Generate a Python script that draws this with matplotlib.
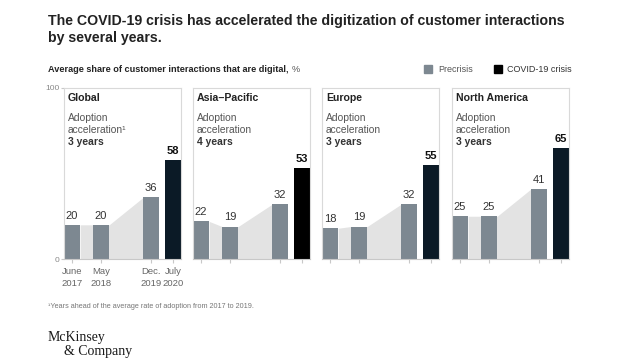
import matplotlib.pyplot as plt
from matplotlib.patches import Rectangle
from matplotlib.text import Annotation

plt.rcParams['font.family'] = ['Liberation Sans', 'DejaVu Sans']

regions = ["Global", "Asia\u2013Pacific", "Europe", "North America"]
accel_years = ["3 years", "4 years", "3 years", "3 years"]
precrisis = [[20, 20, 36], [22, 19, 32], [18, 19, 32], [25, 25, 41]]
covid = [58, 53, 55, 65]
date_labels = ["June\n2017", "May\n2018", "Dec.\n2019", "July\n2020"]

GRAY = "#7d8891"
FILL = "#e3e3e3"
COVID_COLORS = ["#0b1a26", "#000000", "#0b1a26", "#0b1a26"]
EDGE = "#d9d9d9"

W, H = 640, 360
fig = plt.figure(figsize=(6.4, 3.6), dpi=100)

fig.text(48 / W, 1 - 14 / H,
         "The COVID-19 crisis has accelerated the digitization of customer interactions\nby several years.",
         fontsize=10.2, fontweight="bold", color="#222222", va="top", linespacing=1.25)
sub = fig.text(48 / W, 1 - 69 / H, "Average share of customer interactions that are digital,",
               fontsize=6.6, fontweight="bold", color="#222222", va="center")
fig.add_artist(Annotation("%", xy=(1, 0.5), xycoords=sub, xytext=(2, 0),
                          textcoords="offset points", fontsize=6.6, color="#555555",
                          va="center", ha="left"))

# legend
fig.add_artist(Rectangle((424 / W, 1 - 73 / H), 8 / W, 8 / H, color=GRAY, transform=fig.transFigure))
fig.text(438 / W, 1 - 69 / H, "Precrisis", fontsize=6.5, color="#555555", va="center")
fig.add_artist(Rectangle((494 / W, 1 - 73 / H), 8 / W, 8 / H, color="black", transform=fig.transFigure))
fig.text(507 / W, 1 - 69 / H, "COVID-19 crisis", fontsize=6.5, color="#333333", va="center")

lefts = [64, 193, 322, 452]
pw = 117
top, bottom = 88, 259
xpos = [0.5, 2.3, 5.4, 6.75]
bw = 1.0

for i, region in enumerate(regions):
    ax = fig.add_axes([lefts[i] / W, 1 - bottom / H, pw / W, (bottom - top) / H])
    vals = precrisis[i]
    hw = bw / 2
    fx = [xpos[0] + hw, xpos[1] - hw, xpos[1] + hw, xpos[2] - hw]
    fy = [vals[0], vals[1], vals[1], vals[2]]
    ax.fill_between(fx, fy, 0, color=FILL, lw=0, zorder=1)
    ax.bar(xpos[:3], vals, width=bw, color=GRAY, zorder=2)
    ax.bar(xpos[3], covid[i], width=bw, color=COVID_COLORS[i], zorder=2)
    for x, v in zip(xpos[:3], vals):
        ax.text(x, v + 2.5, str(v), ha="center", va="bottom", fontsize=8, color="#333333")
    ax.text(xpos[3], covid[i] + 2.5, str(covid[i]), ha="center", va="bottom",
            fontsize=8, fontweight="bold", color="#111111")
    ax.set_xlim(0, 7.25)
    ax.set_ylim(0, 100)
    for s in ["top", "left", "right"]:
        ax.spines[s].set_color(EDGE)
        ax.spines[s].set_linewidth(0.8)
    ax.spines["bottom"].set_color("#c8c8c8")
    ax.spines["bottom"].set_linewidth(0.8)
    ax.set_xticks(xpos)
    ax.tick_params(axis="x", length=3, color="#c8c8c8", labelsize=6.8, labelcolor="#666666", pad=3)
    if i == 0:
        ax.set_xticklabels(date_labels, linespacing=1.35)
        ax.set_yticks([0, 100])
        ax.tick_params(axis="y", length=2, color="#c8c8c8", labelsize=6, labelcolor="#888888", pad=1)
    else:
        ax.set_xticklabels([])
        ax.set_yticks([])

    ax.text(0.035, 0.9415, region, transform=ax.transAxes, fontsize=7.6, fontweight="bold",
            color="#222222", va="center")
    sup = "\u00b9" if i == 0 else ""
    ax.text(0.035, 0.8246, "Adoption", transform=ax.transAxes, fontsize=7.4,
            color="#555555", va="center")
    ax.text(0.035, 0.754, "acceleration" + sup, transform=ax.transAxes, fontsize=7.4,
            color="#555555", va="center")
    ax.text(0.035, 0.684, accel_years[i], transform=ax.transAxes, fontsize=7.4, fontweight="bold",
            color="#333333", va="center")

fig.text(48 / W, 1 - 307 / H, "\u00b9Years ahead of the average rate of adoption from 2017 to 2019.",
         fontsize=5.2, color="#777777", va="center")
fig.text(48 / W, 1 - 337 / H, "McKinsey", fontsize=10, family="Liberation Serif",
         color="#1a1a1a", va="center")
fig.text(64 / W, 1 - 352 / H, "& Company", fontsize=10, family="Liberation Serif",
         color="#1a1a1a", va="center")

fig.savefig("out.png", dpi=100)
